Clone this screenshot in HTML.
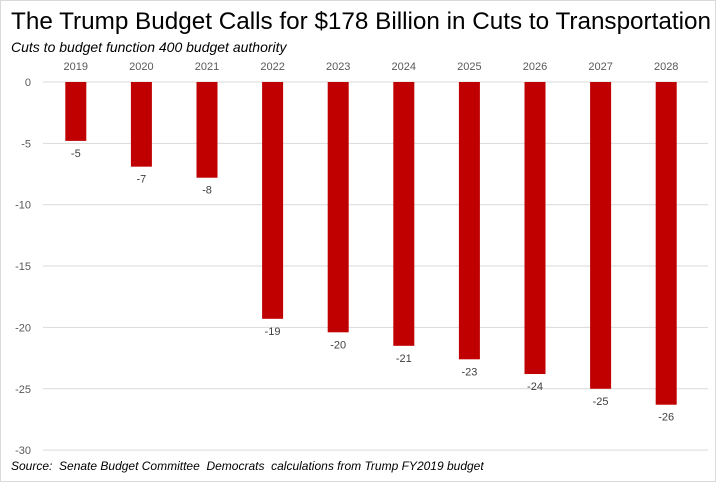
<!DOCTYPE html>
<html><head><meta charset="utf-8"><style>
body{margin:0;width:716px;height:482px;background:#fff;overflow:hidden;font-family:"Liberation Sans",sans-serif}
.frame{position:absolute;left:0;top:0;width:714px;height:480px;border:1px solid #d9d9d9}
#sub{position:absolute;left:11px;top:39px;font-size:14px;font-style:italic;white-space:nowrap}
#src{position:absolute;left:11px;top:459px;font-size:12px;font-style:italic;white-space:nowrap}
</style></head><body>
<div class="frame"></div>
<svg width="716" height="40" style="position:absolute;left:0;top:0">
<text x="11" y="29" font-size="24" font-family="Liberation Sans" textLength="700" lengthAdjust="spacingAndGlyphs">The Trump Budget Calls for $178 Billion in Cuts to Transportation</text>
</svg>
<div id="sub">Cuts to budget function 400 budget authority</div>
<svg id="chart" width="716" height="482" style="position:absolute;left:0;top:0"></svg>
<div id="src">Source:&nbsp; Senate Budget Committee&nbsp; Democrats&nbsp; calculations from Trump FY2019 budget</div>
<script>
const categories=["2019","2020","2021","2022","2023","2024","2025","2026","2027","2028"];
const values=[-4.8,-6.9,-7.8,-19.3,-20.4,-21.5,-22.6,-23.8,-25.0,-26.3];
const labels=["-5","-7","-8","-19","-20","-21","-23","-24","-25","-26"];
const ticks=[0,-5,-10,-15,-20,-25,-30];
const svg=document.getElementById('chart');
const NS='http://www.w3.org/2000/svg';
const x0=43,x1=699,gridEnd=708,y0=82,yScale=12.27;
const y=v=>y0-v*yScale;
const step=(x1-x0)/categories.length;
const xc=i=>x0+step*(i+0.5);
function mk(t,a,txt){const e=document.createElementNS(NS,t);for(const k in a)e.setAttribute(k,a[k]);if(txt!=null)e.textContent=txt;svg.appendChild(e);return e;}
ticks.forEach(t=>{
  const l=mk('line',{x1:x0,x2:gridEnd,y1:y(t),y2:y(t),stroke:'#d9d9d9','stroke-width':1});
  
  
  const tx=mk('text',{x:31,y:y(t)+4,'text-anchor':'end','font-size':11,fill:'#595959','font-family':'Liberation Sans'},String(t));
  
  
});
categories.forEach((c,i)=>{
  const cx=xc(i);
  const ct=mk('text',{x:cx,y:70,'text-anchor':'middle','font-size':11,fill:'#595959','font-family':'Liberation Sans'},c);
  
  
  const b=mk('rect',{x:cx-10.5,y:y(0),width:21,height:y(values[i])-y(0),fill:'#c00000'});
  
  
  const vl=mk('text',{x:cx,y:y(values[i])+16,'text-anchor':'middle','font-size':11,fill:'#404040','font-family':'Liberation Sans'},labels[i]);
  
  
});
</script>
</body></html>
